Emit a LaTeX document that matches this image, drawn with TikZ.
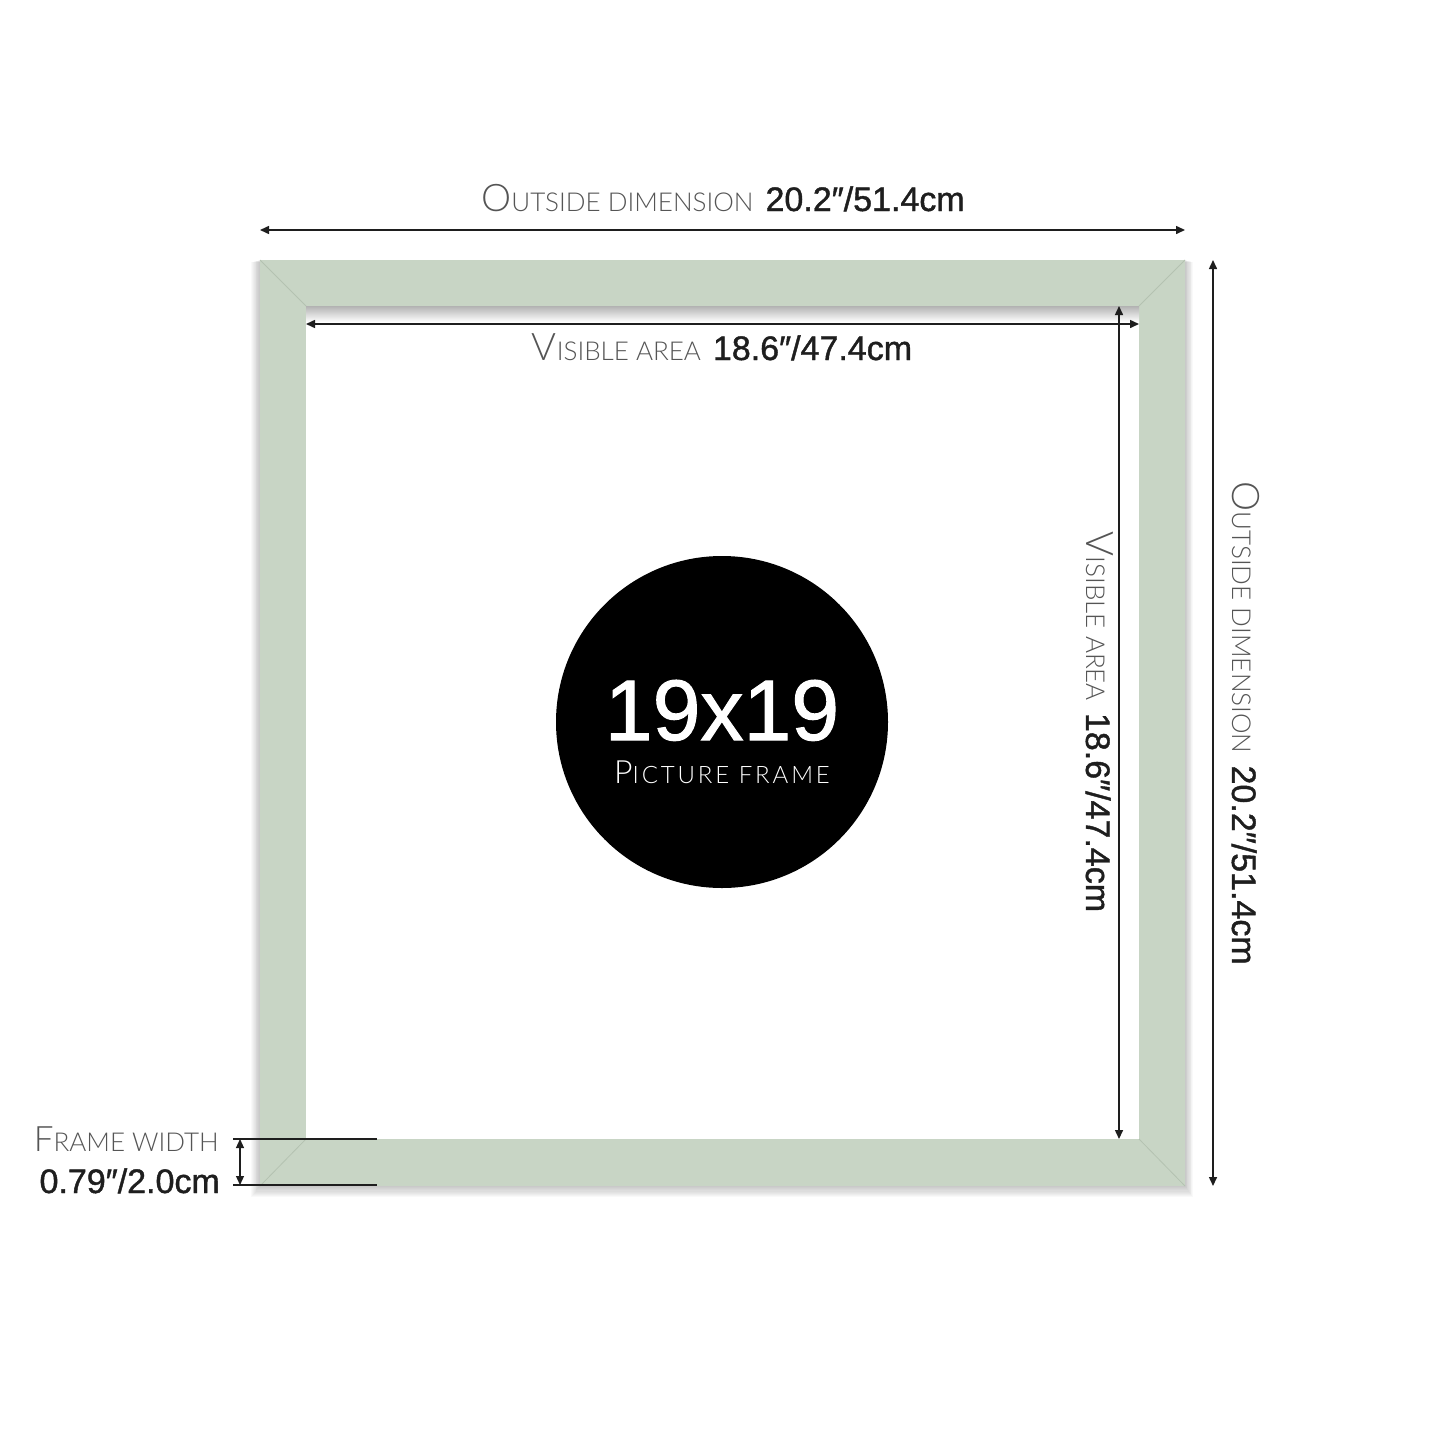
\documentclass[tikz,border=0pt]{standalone}
\usepackage{fontspec}
\setmainfont{Liberation Sans}
\newfontfamily\numfont[FakeBold=1.2]{Liberation Sans}
\newfontfamily\lightfont{Lato Light}
\newfontfamily\lightwidefont[LetterSpace=12]{Lato Light}
\usetikzlibrary{arrows.meta}
\definecolor{framegreen}{HTML}{C8D5C5}
\definecolor{mitregreen}{HTML}{B4C2B1}
\definecolor{labelgray}{HTML}{555555}
\definecolor{numblack}{HTML}{1E1E1E}
% caps label: big first letter, small caps rest
\newcommand{\capslabel}[4]{{\lightfont\fontsize{#3}{#3}\selectfont #1\fontsize{#4}{#4}\selectfont #2}}
\newcommand{\numtext}[1]{{\numfont\fontsize{34}{34}\selectfont #1}}
\tikzset{
  dimarrow/.style={line width=1.5pt, numblack, {Triangle[length=9pt,width=8pt]}-{Triangle[length=9pt,width=8pt]}},
  dimlabel/.style={anchor=base, inner sep=0pt, text=numblack},
  tickline/.style={line width=1.2pt, numblack},
}
\begin{document}
\begin{tikzpicture}[x=1pt, y=-1pt]
			\useasboundingbox (0,0) rectangle (1445,1445);
			% Define nodes
			\coordinate (oTL) at (260,260);
			\coordinate (oTR) at (1185,260);
			\coordinate (oBL) at (260,1186);
			\coordinate (oBR) at (1185,1186);
			\coordinate (iTL) at (306,306);
			\coordinate (iTR) at (1139,306);
			\coordinate (iBL) at (306,1139);
			\coordinate (iBR) at (1139,1139);

			% Shadow round the frame
			\foreach \i in {1,...,10}
				\fill[black, opacity=0.025] (260-\i*0.9,260+\i*0.2) rectangle (1185+\i*0.8,1186+\i*1.1);

			% Frame
			\fill[framegreen] (oTL) rectangle (oBR);
			\fill[white] (iTL) rectangle (iBR);
			\shade[top color=black!30, bottom color=white] (iTL) rectangle (1139,322);
			\draw[mitregreen, line width=0.8pt] (oTL) -- (iTL);
			\draw[mitregreen, line width=0.8pt] (oTR) -- (iTR);
			\draw[mitregreen, line width=0.8pt] (oBL) -- (iBL);
			\draw[mitregreen, line width=0.8pt] (oBR) -- (iBR);

			% Circle
			\node[circle, fill=black, minimum size=332pt, inner sep=0pt] (badge) at (722,722) {};
			\node[anchor=base, inner sep=0pt, text=white, font=\numfont\fontsize{86}{86}\selectfont] (size) at (722,740) {19x19};
			\node[anchor=base, inner sep=0pt, text=white] (kind) at (722,783) {\lightwidefont\fontsize{32}{32}\selectfont P\fontsize{24}{24}\selectfont ICTURE FRAME};

			% Dimension arrows
			\coordinate (outL) at (260,230);
			\coordinate (outR) at (1185,230);
			\coordinate (visL) at (306,324);
			\coordinate (visR) at (1139,324);
			\coordinate (visT) at (1119,306);
			\coordinate (visB) at (1119,1139);
			\coordinate (outT) at (1213,260);
			\coordinate (outB) at (1213,1186);
			\draw[dimarrow] (outL) -- (outR);
			\draw[dimarrow] (visL) -- (visR);
			\draw[dimarrow] (visT) -- (visB);
			\draw[dimarrow] (outT) -- (outB);

			% Frame width marker
			\coordinate (fwT) at (233,1139);
			\coordinate (fwB) at (233,1185);
			\coordinate (fwTe) at (377,1139);
			\coordinate (fwBe) at (377,1185);
			\coordinate (fwaT) at (240,1139);
			\coordinate (fwaB) at (240,1185);
			\draw[tickline] (fwT) -- (fwTe);
			\draw[tickline] (fwB) -- (fwBe);
			\draw[dimarrow, line width=1.2pt] (fwaT) -- (fwaB);

			% Labels
			\node[dimlabel] (outtop) at (723,211) {\textcolor{labelgray}{\capslabel{O}{UTSIDE DIMENSION}{38}{26}}\hspace{12pt}\numtext{20.2″/51.4cm}};
			\node[dimlabel] (vistop) at (722,360) {\textcolor{labelgray}{\capslabel{V}{ISIBLE AREA}{38}{26}}\hspace{12pt}\numtext{18.6″/47.4cm}};
			\node[dimlabel, rotate=-90] (visside) at (1086,722) {\textcolor{labelgray}{\capslabel{V}{ISIBLE AREA}{38}{26}}\hspace{12pt}\numtext{18.6″/47.4cm}};
			\node[dimlabel, rotate=-90] (outside) at (1232,723) {\textcolor{labelgray}{\capslabel{O}{UTSIDE DIMENSION}{38}{26}}\hspace{12pt}\numtext{20.2″/51.4cm}};
			\node[dimlabel, anchor=base east] (fwname) at (219,1151) {\textcolor{labelgray}{\capslabel{F}{RAME WIDTH}{35}{26}}};
			\node[dimlabel, anchor=base east] (fwval) at (220,1193) {\numtext{0.79″/2.0cm}};
		\end{tikzpicture}
\end{document}
